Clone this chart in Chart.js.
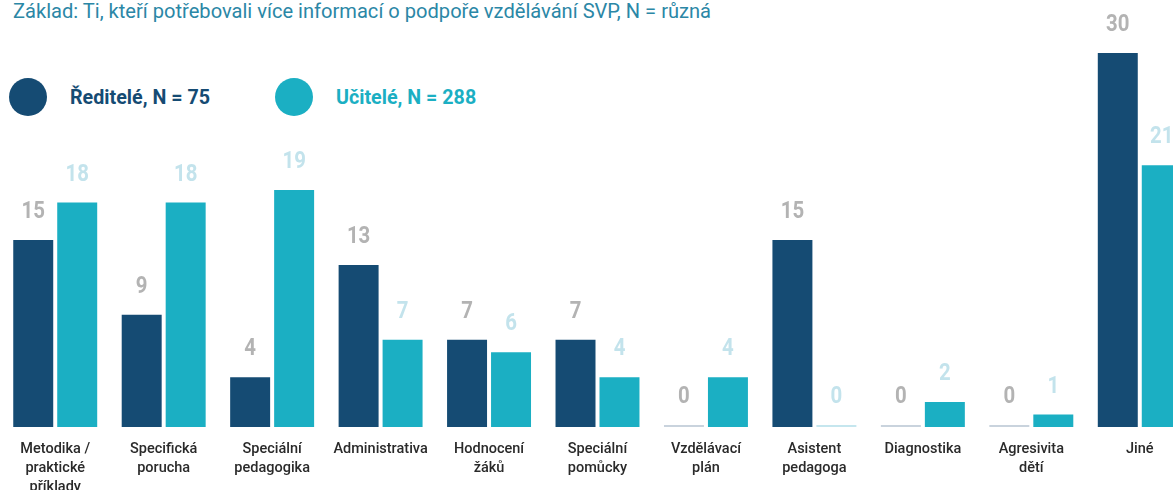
<!DOCTYPE html>
<html>
<head>
<meta charset="utf-8">
<script src="https://cdn.jsdelivr.net/npm/chart.js@4"></script>
<style>
  body { margin: 0; width: 1173px; height: 490px; overflow: hidden; background: #fff; position: relative; font-family: Roboto, sans-serif; }
  .title { position: absolute; left: 13px; top: -1px; font-size: 20.1px; font-weight: 400; color: #2b87a6; white-space: nowrap; }
  .legendItem { position: absolute; top: 78px; height: 38px; display: flex; align-items: center; font-size: 19.7px; font-weight: 700; white-space: nowrap; }
  .legendDot { width: 38px; height: 38px; border-radius: 50%; margin-right: 23px; }
  .chartWrap { position: absolute; left: 0; top: 0; width: 1195px; height: 490px; }
</style>
</head>
<body>
<div class="title">Základ: Ti, kteří potřebovali více informací o podpoře vzdělávání SVP, N = různá</div>
<div class="legendItem" style="left:9px; color:#154b73"><span class="legendDot" style="background:#154b73"></span>Ředitelé, N = 75</div>
<div class="legendItem" style="left:275px; color:#1bafc3"><span class="legendDot" style="background:#1bafc3"></span>Učitelé, N = 288</div>
<div class="chartWrap"><canvas id="chart" width="1195" height="490"></canvas></div>
<script>
//-----------------------------------------------------------------------------
// data
//-----------------------------------------------------------------------------
const categories = [
    ["Metodika /", "praktické", "příklady"],
    ["Specifická", "porucha"],
    ["Speciální", "pedagogika"],
    "Administrativa",
    ["Hodnocení", "žáků"],
    ["Speciální", "pomůcky"],
    ["Vzdělávací", "plán"],
    ["Asistent", "pedagoga"],
    "Diagnostika",
    ["Agresivita", "dětí"],
    "Jiné"
];
const seriesNames = ["Ředitelé, N = 75", "Učitelé, N = 288"];
const reditele = [15, 9, 4, 13, 7, 7, 0, 15, 0, 0, 30];
const ucitele  = [18, 18, 19, 7, 6, 4, 4, 0, 2, 1, 21];

const darkBlue = "#154b73";
const teal     = "#1bafc3";

//-----------------------------------------------------------------------------
// value labels drawn above each bar
//-----------------------------------------------------------------------------
const valueLabels = {
    id: "valueLabels",
    afterDatasetsDraw(chart) {
        const ctx = chart.ctx;
        const colors = ["#b3b3b3", "#c3e3ec"];
        chart.data.datasets.forEach((ds, i) => {
            const meta = chart.getDatasetMeta(i);
            meta.data.forEach((bar, j) => {
                ctx.save();
                ctx.translate(bar.x, bar.y - 22);
                ctx.scale(0.85, 1);  // the original font is condensed
                ctx.font = "700 24px Roboto";
                ctx.fillStyle = colors[i];
                ctx.textAlign = "center";
                ctx.textBaseline = "alphabetic";
                ctx.fillText(ds.data[j], 0, 0);
                ctx.restore();
            });
        });
    }
};

const zeroColor = (base, light) => c => (c.raw === 0 ? light : base);

new Chart(document.getElementById("chart"), {
    type: "bar",
    data: {
        labels: categories,
        datasets: [
            {
                label: seriesNames[0],
                data: reditele,
                backgroundColor: zeroColor(darkBlue, "#c9d3dd"),
                minBarLength: 2
            },
            {
                label: seriesNames[1],
                data: ucitele,
                backgroundColor: zeroColor(teal, "#c5e6ee"),
                minBarLength: 2
            }
        ]
    },
    options: {
        responsive: false,
        animation: false,
        devicePixelRatio: 1,
        categoryPercentage: 0.811,
        barPercentage: 0.909,
        layout: { padding: { top: 28, left: 1, right: 1, bottom: 0 } },
        plugins: {
            legend: { display: false },
            tooltip: { enabled: false }
        },
        scales: {
            x: {
                grid: { display: false, drawTicks: false },
                border: { display: false },
                ticks: {
                    color: "#2a2a2a",
                    font: { family: "Roboto", size: 14.5, weight: 500, lineHeight: 1.31 },
                    padding: 13,
                    maxRotation: 0,
                    autoSkip: false
                },
                afterFit: s => { s.height = 63; }
            },
            y: {
                display: false,
                min: 0,
                max: 32
            }
        }
    },
    plugins: [valueLabels]
});
</script>
</body>
</html>
